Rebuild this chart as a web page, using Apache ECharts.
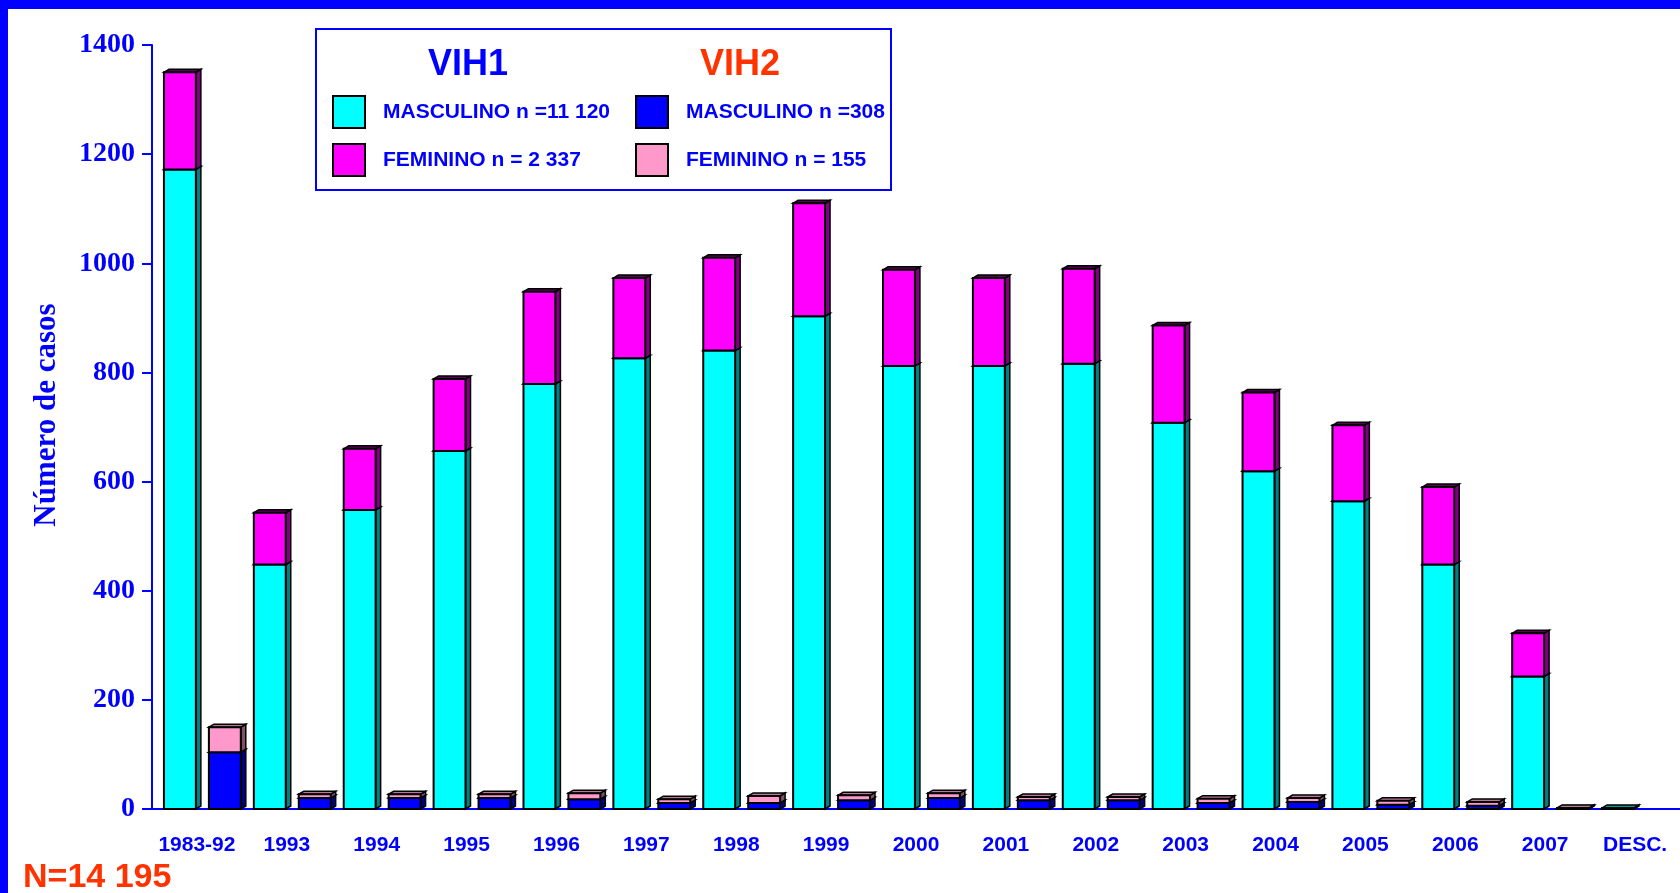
<!DOCTYPE html>
<html>
<head>
<meta charset="utf-8">
<title>VIH - Número de casos</title>
<script src="https://cdn.jsdelivr.net/npm/echarts@6/dist/echarts.min.js"></script>
<style>
  html, body { margin: 0; padding: 0; background: #fff; }
  #chart { width: 1680px; height: 893px; }
</style>
</head>
<body>
<div id="chart"></div>
<script>
// data
var years = ['1983-92', '1993', '1994', '1995', '1996', '1997', '1998', '1999', '2000',
             '2001', '2002', '2003', '2004', '2005', '2006', '2007', 'DESC.'];
var vih1Masc = [1172, 448, 548, 656, 779, 826, 840, 903, 812, 812, 816, 708, 619, 564, 448, 243, 2];
var vih1Fem  = [178, 95, 112, 132, 169, 147, 170, 207, 176, 161, 174, 178, 144, 139, 142, 79, 0];
var vih2Masc = [104, 20, 20, 20, 18, 11, 11, 16, 20, 16, 16, 11, 13, 8, 6, 1, 0];
var vih2Fem  = [46, 7, 7, 7, 11, 7, 13, 9, 9, 6, 6, 8, 7, 7, 7, 1, 0];

var names = ['MASCULINO n =11 120', 'FEMININO n = 2 337', 'MASCULINO n =308', 'FEMININO n = 155'];

var BLUE = '#0000ff';
var RED = '#ff3300';

// front / side / top colours of the fake 3D boxes
var shades = {
  '#00ffff': { side: '#008080', top: '#009a9a' },
  '#ff00ff': { side: '#800080', top: '#5a005a' },
  '#0000ff': { side: '#000080', top: '#000070' },
  '#ff99cc': { side: '#805066', top: '#b87896' }
};

function box(slot) {
  return function (params, api) {
    var lo = api.value(1), hi = api.value(2);
    if (hi <= lo) return null;
    var base = api.coord([api.value(0), lo]);
    var top = api.coord([api.value(0), hi]);
    var band = api.size([1, 0])[0];
    var w = band * 0.355;
    var x0 = base[0] + (slot === 0 ? -0.367 : 0.133) * band;
    var x1 = x0 + w, y0 = base[1], y1 = top[1];
    var dx = 5, dy = 3;
    var c = api.visual('color');
    var s = shades[c];
    return {
      type: 'group',
      children: [
        { type: 'polygon', shape: { points: [[x1, y0], [x1 + dx, y0 - dy], [x1 + dx, y1 - dy], [x1, y1]] },
          style: { fill: s.side, stroke: '#000', lineWidth: 1.5 } },
        { type: 'polygon', shape: { points: [[x0, y1], [x0 + dx, y1 - dy], [x1 + dx, y1 - dy], [x1, y1]] },
          style: { fill: s.top, stroke: '#000', lineWidth: 1.5 } },
        { type: 'rect', shape: { x: x0, y: y1, width: w, height: y0 - y1 },
          style: { fill: c, stroke: '#000', lineWidth: 2 } }
      ]
    };
  };
}

function segment(name, color, slot, lows, highs) {
  return {
    type: 'custom',
    name: name,
    renderItem: box(slot),
    itemStyle: { color: color },
    encode: { x: 0, y: [1, 2] },
    data: years.map(function (y, i) { return [i, lows[i], highs[i]]; })
  };
}

var zeros = years.map(function () { return 0; });
var vih1Top = vih1Masc.map(function (v, i) { return v + vih1Fem[i]; });
var vih2Top = vih2Masc.map(function (v, i) { return v + vih2Fem[i]; });

var legendBase = {
  orient: 'vertical',
  top: 90,
  itemWidth: 32,
  itemHeight: 32,
  itemGap: 14,
  icon: 'rect',
  selectedMode: false,
  itemStyle: { borderColor: '#000', borderWidth: 2 },
  textStyle: { color: BLUE, fontSize: 21, fontWeight: 'bold', fontFamily: 'Liberation Sans',
               padding: [15, 0, 0, 13] }
};

var option = {
  animation: false,
  backgroundColor: '#fff',
  grid: { left: 152, top: 45, bottom: 84, width: 1530 },
  legend: [
    Object.assign({ left: 327, data: [names[0], names[1]] }, legendBase),
    Object.assign({ left: 630, data: [names[2], names[3]] }, legendBase)
  ],
  xAxis: {
    type: 'category',
    data: years,
    axisLine: { lineStyle: { color: BLUE, width: 2 } },
    axisTick: { show: false },
    axisLabel: { color: BLUE, fontSize: 21, fontWeight: 'bold', fontFamily: 'Liberation Sans',
                 margin: 26, interval: 0 }
  },
  yAxis: {
    type: 'value',
    min: 0,
    max: 1400,
    interval: 200,
    name: 'Número de casos',
    nameLocation: 'middle',
    nameRotate: 90,
    nameGap: 90,
    nameTextStyle: { color: BLUE, fontSize: 31, fontWeight: 'bold', fontFamily: 'Liberation Serif',
                     padding: [0, 0, 0, 24] },
    axisLine: { show: true, lineStyle: { color: BLUE, width: 2 } },
    axisTick: { show: true, length: 10, lineStyle: { color: BLUE, width: 2 } },
    splitLine: { show: false },
    axisLabel: { color: BLUE, fontSize: 28, fontWeight: 'bold', fontFamily: 'Liberation Serif', margin: 17,
                 formatter: function (v) { return String(v); } }
  },
  graphic: [
    { type: 'rect', shape: { x: 0, y: 0, width: 1680, height: 9 }, style: { fill: BLUE } },
    { type: 'rect', shape: { x: 0, y: 0, width: 8, height: 893 }, style: { fill: BLUE } },
    { type: 'rect', shape: { x: 316, y: 29, width: 575, height: 161 },
      style: { fill: 'none', stroke: BLUE, lineWidth: 2 } },
    { type: 'text', x: 468, y: 65,
      style: { text: 'VIH1', fill: BLUE, font: 'bold 36px "Liberation Sans"', textAlign: 'center', textVerticalAlign: 'middle' } },
    { type: 'text', x: 740, y: 65,
      style: { text: 'VIH2', fill: RED, font: 'bold 36px "Liberation Sans"', textAlign: 'center', textVerticalAlign: 'middle' } },
    { type: 'text', x: 23, y: 878,
      style: { text: 'N=14 195', fill: RED, font: 'bold 34px "Liberation Sans"', textAlign: 'left', textVerticalAlign: 'middle' } }
  ],
  series: [
    segment(names[0], '#00ffff', 0, zeros, vih1Masc),
    segment(names[1], '#ff00ff', 0, vih1Masc, vih1Top),
    segment(names[2], '#0000ff', 1, zeros, vih2Masc),
    segment(names[3], '#ff99cc', 1, vih2Masc, vih2Top)
  ]
};

var myChart = echarts.init(document.getElementById('chart'));
myChart.setOption(option);
</script>
</body>
</html>
